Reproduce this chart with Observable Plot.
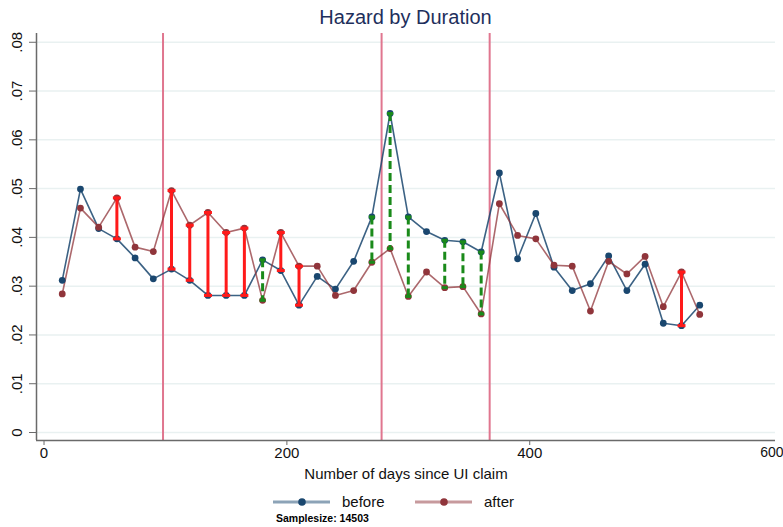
<!DOCTYPE html>
<html>
<head>
<meta charset="utf-8">
<script src="https://cdn.jsdelivr.net/npm/d3@7"></script>
<script src="https://cdn.jsdelivr.net/npm/@observablehq/plot@0.6"></script>
<style>
  html, body { margin: 0; padding: 0; background: #fff; }
  body { width: 783px; height: 527px; position: relative; overflow: hidden; font-family: "Liberation Sans", Arial, sans-serif; }
  #title { position: absolute; left: 36px; width: 739px; top: 7px; text-align: center; font-size: 20px; line-height: 20px; color: #1e2f5c; }
  #chart { position: absolute; left: 0; top: 28px; }
  #legend { position: absolute; left: 0; top: 492px; width: 783px; height: 20px; }
  #caption { position: absolute; left: 276px; top: 512px; font-size: 10.5px; font-weight: bold; line-height: 13px; color: #000; }
</style>
</head>
<body>
<div id="title">Hazard by Duration</div>
<div id="chart"></div>
<div id="legend"></div>
<div id="caption">Samplesize: 14503</div>
<script>
// ---- data ----
const days = [15, 30, 45, 60, 75, 90, 105, 120, 135, 150, 165, 180, 195, 210, 225, 240, 255, 270,
              285, 300, 315, 330, 345, 360, 375, 390, 405, 420, 435, 450, 465, 480, 495, 510, 525, 540];
const before = [0.0312, 0.0499, 0.0418, 0.0397, 0.0358, 0.0315, 0.0335, 0.0312, 0.0281, 0.0281, 0.0281, 0.0354,
                0.0332, 0.0261, 0.0320, 0.0294, 0.0351, 0.0442, 0.0654, 0.0442, 0.0412, 0.0394, 0.0391, 0.0370,
                0.0532, 0.0356, 0.0449, 0.0339, 0.0291, 0.0305, 0.0362, 0.0291, 0.0345, 0.0224, 0.0219, 0.0261];
const after = [0.0284, 0.0460, 0.0421, 0.0481, 0.0380, 0.0371, 0.0496, 0.0425, 0.0451, 0.0410, 0.0419, 0.0271,
               0.0410, 0.0341, 0.0341, 0.0281, 0.0291, 0.0349, 0.0377, 0.0279, 0.0329, 0.0297, 0.0299, 0.0243,
               0.0469, 0.0404, 0.0397, 0.0343, 0.0341, 0.0249, 0.0351, 0.0325, 0.0361, 0.0258, 0.0329, 0.0242];
const upDays = [60, 105, 120, 135, 150, 165, 195, 210, 525];     // after significantly higher (red)
const downDays = [180, 270, 285, 300, 330, 345, 360];            // before significantly higher (green)
const cutoffs = [98, 278, 367];
const xTicks = [0, 200, 400, 600];
const yTicks = [0, 0.01, 0.02, 0.03, 0.04, 0.05, 0.06, 0.07, 0.08];

// ---- table ----
const rows = days.map((d, i) => ({day: d, before: before[i], after: after[i]}));
const upRows = rows.filter(r => upDays.includes(r.day));
const downRows = rows.filter(r => downDays.includes(r.day));

const navy = "#1a476f", maroon = "#90353b", red = "#ff1a1a", green = "#1a8a1a";
const pink = "#e0768f", grid = "#e9f1f1", axisColor = "#6a6a6a";
const xDomain = [-6.2, 602.4], yDomain = [-0.00164, 0.0818];

const capSymbol = {
  draw(context, size) {
    const w = Math.sqrt(size / Math.PI);
    context.moveTo(-w, 0);
    context.lineTo(w, 0);
  }
};
const yFmt = d => d === 0 ? "0" : d3.format(".2f")(d).replace(/^0/, "");
const lastTick = xTicks[xTicks.length - 1];

const chart = Plot.plot({
  width: 783,
  height: 455,
  marginLeft: 36,
  marginRight: 8,
  marginTop: 5,
  marginBottom: 43,
  style: {fontFamily: "Liberation Sans, Arial, sans-serif", fontSize: "15px", color: "#111", background: "#fff"},
  x: {domain: xDomain},
  y: {domain: yDomain},
  marks: [
    Plot.ruleY(yTicks, {stroke: grid, strokeWidth: 1.5}),
    Plot.ruleX(cutoffs, {stroke: pink, strokeWidth: 2}),
    Plot.line(rows, {x: "day", y: "before", stroke: navy, strokeWidth: 1.6, strokeOpacity: 0.85}),
    Plot.line(rows, {x: "day", y: "after", stroke: maroon, strokeWidth: 1.6, strokeOpacity: 0.75}),
    Plot.dot(rows, {x: "day", y: "before", fill: navy, r: 3.4}),
    Plot.dot(rows, {x: "day", y: "after", fill: maroon, r: 3.4}),
    Plot.ruleX(upRows, {x: "day", y1: "before", y2: "after", stroke: red, strokeWidth: 3}),
    Plot.dot(upRows, {x: "day", y: "before", symbol: capSymbol, r: 4, fill: "none", stroke: red, strokeWidth: 3}),
    Plot.dot(upRows, {x: "day", y: "after", symbol: capSymbol, r: 4, fill: "none", stroke: red, strokeWidth: 3}),
    Plot.ruleX(downRows, {x: "day", y1: "before", y2: "after", stroke: green, strokeWidth: 3, strokeDasharray: "8,4"}),
    Plot.dot(downRows, {x: "day", y: "before", symbol: capSymbol, r: 3, fill: "none", stroke: green, strokeWidth: 3}),
    Plot.dot(downRows, {x: "day", y: "after", symbol: capSymbol, r: 3, fill: "none", stroke: green, strokeWidth: 3}),
    Plot.ruleX([xDomain[0]], {stroke: axisColor, strokeWidth: 1.5}),
    Plot.ruleY([yDomain[0]], {stroke: axisColor, strokeWidth: 1.5}),
    Plot.axisY({ticks: yTicks, tickSize: 7, tickFormat: () => "", stroke: axisColor}),
    Plot.text(yTicks, {y: d => d, text: yFmt, frameAnchor: "left", dx: -19, rotate: -90, textAnchor: "middle", lineAnchor: "middle", fontSize: 15, fill: "#111"}),
    Plot.axisX({ticks: xTicks.filter(t => t !== lastTick), tickSize: 5, tickPadding: 2, stroke: axisColor, fontSize: 15, fill: "#111",
                label: "Number of days since UI claim", labelAnchor: "center", labelOffset: 38, labelArrow: "none"}),
    Plot.axisX({ticks: [lastTick], tickSize: 5, tickPadding: 2, stroke: axisColor, fontSize: 14, fill: "#111",
                textAnchor: "end", dx: 11, label: null})
  ]
});
document.getElementById("chart").appendChild(chart);

// ---- legend ----
const leg = d3.select("#legend").append("svg").attr("width", 783).attr("height", 20);
const items = [
  {label: "before", color: navy, x0: 273},
  {label: "after", color: maroon, x0: 415}
];
for (const it of items) {
  leg.append("line").attr("x1", it.x0).attr("x2", it.x0 + 57).attr("y1", 10).attr("y2", 10)
     .attr("stroke", it.color).attr("stroke-width", 3).attr("stroke-opacity", 0.5);
  leg.append("circle").attr("cx", it.x0 + 29).attr("cy", 10).attr("r", 3.8).attr("fill", it.color);
  leg.append("text").attr("x", it.x0 + 69).attr("y", 10).attr("dy", "0.35em")
     .attr("font-family", "Liberation Sans, Arial, sans-serif").attr("font-size", 15).attr("fill", "#111").text(it.label);
}
</script>
</body>
</html>
